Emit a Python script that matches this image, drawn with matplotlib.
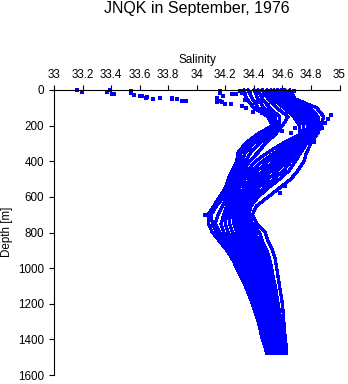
import matplotlib
matplotlib.use("Agg")
import matplotlib.pyplot as plt

plt.rcParams["font.family"] = ["Liberation Sans", "DejaVu Sans"]

W, H = 348, 384

# depth levels shared by the typed profiles (m)
depth = [0, 50, 100, 150, 200, 250, 300, 350, 400, 450, 500, 550, 600, 650, 700, 750,
         800, 850, 900, 950, 1000, 1050, 1100, 1150, 1200, 1250, 1300, 1350, 1400, 1450, 1480]

# salinity profiles, left edge of the cloud to right edge
prof_a = [34.33, 34.35, 34.40, 34.50, 34.53, 34.42, 34.34, 34.29, 34.28, 34.25, 34.22, 34.20, 34.16, 34.12, 34.08, 34.08,
          34.11, 34.16, 34.21, 34.25, 34.28, 34.31, 34.34, 34.365, 34.39, 34.41, 34.43, 34.445, 34.46, 34.48, 34.49]
prof_b = [34.36, 34.39, 34.43, 34.52, 34.55, 34.45, 34.37, 34.31, 34.30, 34.27, 34.24, 34.22, 34.19, 34.14, 34.10, 34.11,
          34.14, 34.19, 34.24, 34.28, 34.30, 34.33, 34.36, 34.38, 34.405, 34.425, 34.44, 34.46, 34.47, 34.49, 34.50]
prof_c = [34.40, 34.43, 34.47, 34.55, 34.56, 34.48, 34.40, 34.34, 34.32, 34.29, 34.26, 34.24, 34.21, 34.18, 34.15, 34.13,
          34.16, 34.21, 34.26, 34.30, 34.32, 34.35, 34.375, 34.40, 34.42, 34.44, 34.455, 34.47, 34.485, 34.50, 34.51]
prof_d = [34.43, 34.46, 34.51, 34.58, 34.58, 34.52, 34.44, 34.38, 34.34, 34.31, 34.28, 34.25, 34.23, 34.21, 34.19, 34.17,
          34.19, 34.24, 34.28, 34.32, 34.34, 34.37, 34.39, 34.415, 34.435, 34.45, 34.47, 34.48, 34.495, 34.51, 34.52]
prof_e = [34.46, 34.50, 34.56, 34.64, 34.60, 34.55, 34.48, 34.43, 34.37, 34.33, 34.29, 34.27, 34.25, 34.22, 34.21, 34.20,
          34.22, 34.27, 34.30, 34.34, 34.36, 34.385, 34.41, 34.43, 34.45, 34.47, 34.48, 34.495, 34.51, 34.52, 34.53]
prof_f = [34.49, 34.53, 34.61, 34.68, 34.72, 34.72, 34.60, 34.50, 34.41, 34.36, 34.31, 34.28, 34.26, 34.24, 34.23, 34.23,
          34.25, 34.29, 34.32, 34.36, 34.38, 34.40, 34.425, 34.445, 34.465, 34.48, 34.495, 34.51, 34.52, 34.535, 34.545]
prof_g = [34.52, 34.56, 34.64, 34.71, 34.75, 34.74, 34.64, 34.55, 34.46, 34.39, 34.34, 34.30, 34.28, 34.26, 34.25, 34.26,
          34.28, 34.31, 34.34, 34.38, 34.40, 34.42, 34.44, 34.46, 34.48, 34.495, 34.51, 34.52, 34.535, 34.55, 34.56]
prof_h = [34.54, 34.59, 34.67, 34.74, 34.78, 34.76, 34.67, 34.59, 34.50, 34.43, 34.37, 34.33, 34.30, 34.28, 34.27, 34.28,
          34.30, 34.33, 34.36, 34.40, 34.42, 34.44, 34.46, 34.475, 34.495, 34.51, 34.525, 34.535, 34.55, 34.56, 34.57]
prof_m = [34.56, 34.60, 34.69, 34.76, 34.79, 34.77, 34.69, 34.62, 34.54, 34.47, 34.40, 34.35, 34.32, 34.29, 34.28, 34.29,
          34.32, 34.35, 34.38, 34.415, 34.435, 34.45, 34.47, 34.485, 34.50, 34.515, 34.53, 34.545, 34.555, 34.57, 34.58]
prof_i = [34.57, 34.62, 34.71, 34.78, 34.80, 34.78, 34.70, 34.64, 34.57, 34.50, 34.43, 34.37, 34.33, 34.31, 34.30, 34.31,
          34.34, 34.37, 34.40, 34.43, 34.45, 34.465, 34.48, 34.495, 34.51, 34.525, 34.54, 34.55, 34.565, 34.575, 34.585]
prof_n = [34.59, 34.63, 34.73, 34.79, 34.81, 34.79, 34.72, 34.66, 34.60, 34.53, 34.46, 34.40, 34.35, 34.33, 34.315, 34.33,
          34.365, 34.39, 34.42, 34.45, 34.465, 34.48, 34.495, 34.51, 34.525, 34.54, 34.55, 34.56, 34.575, 34.585, 34.595]
prof_j = [34.60, 34.64, 34.75, 34.81, 34.82, 34.80, 34.74, 34.69, 34.63, 34.57, 34.50, 34.43, 34.37, 34.34, 34.33, 34.35,
          34.39, 34.41, 34.44, 34.47, 34.48, 34.495, 34.51, 34.52, 34.535, 34.55, 34.56, 34.57, 34.58, 34.59, 34.60]
prof_o = [34.61, 34.66, 34.77, 34.83, 34.84, 34.81, 34.76, 34.71, 34.66, 34.61, 34.54, 34.47, 34.40, 34.36, 34.35, 34.37,
          34.41, 34.435, 34.465, 34.49, 34.505, 34.52, 34.53, 34.54, 34.55, 34.565, 34.575, 34.585, 34.595, 34.605, 34.61]
prof_k = [34.62, 34.67, 34.79, 34.85, 34.85, 34.82, 34.77, 34.73, 34.69, 34.65, 34.58, 34.50, 34.43, 34.38, 34.365, 34.39,
          34.44, 34.46, 34.49, 34.51, 34.525, 34.535, 34.55, 34.56, 34.57, 34.58, 34.59, 34.60, 34.605, 34.615, 34.62]
prof_l = [34.65, 34.69, 34.84, 34.89, 34.87, 34.84, 34.80, 34.77, 34.75, 34.71, 34.66, 34.58, 34.50, 34.42, 34.39, 34.42,
          34.48, 34.50, 34.53, 34.55, 34.56, 34.57, 34.58, 34.59, 34.60, 34.605, 34.61, 34.615, 34.62, 34.63, 34.63]

profiles = [prof_a, prof_b, prof_c, prof_d, prof_e, prof_f, prof_g, prof_h, prof_m,
            prof_i, prof_n, prof_j, prof_o, prof_k, prof_l]

# samples off the main cloud, mostly low salinity near the surface
stray_sal = [33.163, 33.198, 33.374, 33.392, 33.404, 33.423, 33.537, 33.537, 33.56, 33.60, 33.614, 33.65, 33.642,
             33.694, 33.743, 33.824, 33.829, 33.864, 33.894, 33.925,
             34.163, 34.163, 34.144, 34.186, 34.163, 34.144, 34.18, 34.20, 34.238, 34.245, 34.275, 34.303, 34.315,
             34.338, 34.32, 34.343, 34.396, 34.455,
             34.34, 34.37, 34.42, 34.47, 34.50, 34.52, 34.58, 34.63, 34.68, 34.64,
             34.60, 34.66, 34.69, 34.73, 34.94, 34.92, 34.90, 34.88, 34.85, 34.82, 34.68, 34.62, 34.58, 34.06]
stray_dep = [2, 11, 11, 0, 24, 24, 4, 15, 26, 34, 36, 37, 43,
             50, 43, 47, 52, 52, 62, 62,
             4, 15, 47, 34, 62, 65, 69, 77, 79, 24, 24, 4, 15,
             56, 90, 103, 122, 131,
             25, 15, 70, 30, 85, 10, 45, 20, 8, 75,
             230, 240, 215, 290, 140, 165, 185, 215, 235, 290, 330, 540, 580, 700]

xticks = [33, 33.2, 33.4, 33.6, 33.8, 34, 34.2, 34.4, 34.6, 34.8, 35]
xtick_labels = ["33", "33.2", "33.4", "33.6", "33.8", "34", "34.2", "34.4", "34.6", "34.8", "35"]
yticks = [0, 200, 400, 600, 800, 1000, 1200, 1400, 1600]

fig = plt.figure(figsize=(W / 100, H / 100), dpi=100)
ax = fig.add_axes([54 / W, 1 - 375 / H, 285.5 / W, 285 / H])

for sal in profiles:
    ax.plot(sal, depth, color="#0000ff", linewidth=1.6, marker="s", markersize=2.0,
            markeredgewidth=0, antialiased=False, clip_on=False)
ax.plot(stray_sal, stray_dep, linestyle="none", color="#0000ff", marker="s", markersize=2.5,
        markeredgewidth=0, antialiased=False, clip_on=False)

ax.set_xlim(33, 35)
ax.set_ylim(1600, 0)
ax.xaxis.tick_top()
ax.set_xticks(xticks, xtick_labels)
ax.set_yticks(yticks)
ax.tick_params(length=3.6, width=0.8, labelsize=8.4, color="black")
ax.tick_params(axis="x", pad=3)
ax.tick_params(axis="y", pad=3.5)
ax.spines["right"].set_visible(False)
ax.spines["bottom"].set_visible(False)

fig.text(197 / W, 1 - 8 / H, "JNQK in September, 1976", ha="center", va="center", fontsize=11.5)
fig.text(197 / W, 1 - 60 / H, "Salinity", ha="center", va="center", fontsize=8.5)
fig.text(7 / W, 1 - 232 / H, "Depth [m]", ha="center", va="center", rotation=90, fontsize=8.4)

fig.savefig("out.png", dpi=100)
